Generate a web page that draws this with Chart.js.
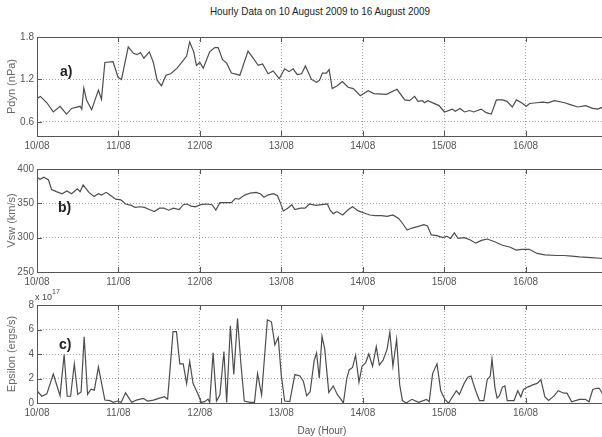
<!DOCTYPE html>
<html lang="en">
<head>
<meta charset="UTF-8">
<title>Hourly Data on 10 August 2009 to 16 August 2009</title>
<script src="https://cdn.jsdelivr.net/npm/chart.js"></script>
<style>
  html, body { margin: 0; padding: 0; background: #fff; overflow: hidden; }
  body { width: 602px; height: 437px; position: relative; font-family: "Liberation Sans Narrow", "Liberation Sans", Arial, sans-serif; }
  .panel { position: absolute; left: 0; width: 612px; }
  .title { position: absolute; top: 5px; left: 0; width: 640px; text-align: center; font-size: 11px; color: #222; transform: scaleX(0.9); transform-origin: 320px 0; }
  .tag { position: absolute; font-family: "Liberation Sans", Arial, sans-serif; font-weight: bold; font-size: 14px; color: #222; line-height: 16px; }
  .expo { position: absolute; left: 35px; top: 290px; font-size: 9px; color: #444; }
  .expo sup { font-size: 7px; position: relative; top: -2px; }
</style>
</head>
<body>
<div class="title">Hourly Data on 10 August 2009 to 16 August 2009</div>

<div class="panel" style="top:28px;height:124px"><canvas id="chartA"></canvas></div>
<div class="panel" style="top:160px;height:126px"><canvas id="chartB"></canvas></div>
<div class="panel" style="top:296px;height:141px"><canvas id="chartC"></canvas></div>

<div class="tag" style="left:60px;top:63px">a)</div>
<div class="tag" style="left:58px;top:199px">b)</div>
<div class="tag" style="left:59px;top:336px">c)</div>
<div class="expo">x 10<sup>17</sup></div>

<script>
// x axis: hours since 10/08 00:00
const dayHours = [0, 24, 48, 72, 96, 120, 144];
const dayLabels = ['10/08', '11/08', '12/08', '13/08', '14/08', '15/08', '16/08'];

// a) dynamic pressure (nPa)
const pdynHours = [0, 1, 2.9, 4.8, 6.8, 8.7, 10.2, 12.7, 13.2, 13.8, 14.6, 16.1, 18.1, 19, 20, 22.4, 23.9, 24.9, 26.9, 28.4,
  29.5, 30.5, 31.5, 33.1, 34.3, 35.4, 36.7, 38, 39.4, 41.3, 44.1, 45, 46.2, 47, 48, 49, 50.9, 52.4, 53.4, 54.7,
  55.9, 57.3, 59.8, 62.2, 63.7, 65.2, 66.5, 68.1, 69.6, 71.4, 73, 74.3, 75.5, 76.7, 78, 79.1, 80.9, 82.4, 83.3, 84.1,
  85.3, 86.1, 87, 88.5, 90, 91.7, 93.2, 95.3, 97.6, 99.3, 103, 106.1, 108.4, 109.8, 111.3, 112.3, 113.6, 114.2, 115.2, 118.5,
  120.1, 122.4, 123.3, 124.7, 126, 127.5, 128.7, 130.9, 132.4, 133.9, 135.4, 137.3, 138.5, 140.1, 141.3, 142.8, 144.2, 145.2, 147.2, 149.2,
  150.6, 152.5, 155.5, 157.4, 159.4, 161.7, 163.8, 165.3, 166.3, 168];
const pdynValues = [0.93, 0.96, 0.87, 0.74, 0.82, 0.71, 0.79, 0.82, 0.78, 1.08, 0.91, 0.77, 1.05, 0.92, 1.44, 1.45, 1.23, 1.2, 1.66, 1.57,
  1.55, 1.58, 1.5, 1.59, 1.44, 1.19, 1.11, 1.26, 1.28, 1.36, 1.53, 1.73, 1.59, 1.4, 1.44, 1.36, 1.59, 1.65, 1.65, 1.48,
  1.43, 1.29, 1.26, 1.6, 1.5, 1.4, 1.42, 1.28, 1.32, 1.21, 1.35, 1.31, 1.35, 1.27, 1.28, 1.39, 1.2, 1.16, 1.19, 1.29,
  1.29, 1.34, 1.07, 1.11, 1.17, 1.09, 1.07, 0.97, 1.04, 1.0, 0.99, 1.06, 0.91, 0.9, 0.96, 0.89, 0.9, 0.87, 0.9, 0.83,
  0.74, 0.78, 0.75, 0.79, 0.74, 0.76, 0.74, 0.78, 0.73, 0.71, 0.91, 0.91, 0.89, 0.81, 0.91, 0.87, 0.82, 0.86, 0.87, 0.88,
  0.87, 0.9, 0.87, 0.84, 0.81, 0.83, 0.79, 0.78, 0.8, 0.79];
const pdynTicks = [0.6, 1.2, 1.8];

// b) solar wind speed (km/s)
const vswHours = [0, 0.9, 2, 3.4, 4.3, 5.7, 7.4, 8.8, 10.2, 11.9, 12.7, 13.6, 15.3, 16.8, 18.1, 19, 20.4, 21.5, 23.2, 24.7,
  26.1, 27.8, 28.9, 30.4, 31.7, 33.1, 34.6, 36.1, 37.4, 38.8, 40.2, 41.9, 43.1, 44.2, 45.4, 46.7, 48.2, 49.9, 51.6, 52.7,
  53.9, 55.6, 57.3, 58.4, 59.5, 61.2, 62.9, 64.6, 65.8, 66.9, 68, 69.7, 70.9, 71.7, 72.6, 73.9, 75.1, 76, 77.7, 79,
  80.3, 82.2, 83.9, 85.6, 86.4, 87.3, 88.4, 90.1, 91.8, 93, 94.7, 96.4, 98.1, 99.8, 101.5, 103.2, 104.9, 106.6, 107.7, 109.1,
  110.5, 112.2, 114, 115.1, 116.2, 117.9, 119.6, 120.7, 121.9, 123, 124.1, 125.9, 127.6, 129.3, 131, 132.7, 134.9, 137.2, 139.5, 141.2,
  142.9, 145.1, 147.4, 149.7, 153.1, 155.3, 157.6, 159.9, 163.3, 166.1, 168];
const vswValues = [388, 385, 388, 384, 370, 367, 364, 368, 364, 371, 367, 377, 366, 360, 364, 362, 366, 362, 356, 355,
  349, 347, 344, 345, 344, 341, 338, 343, 343, 340, 343, 341, 348, 349, 346, 345, 348, 349, 348, 340,
  351, 351, 351, 357, 356, 362, 365, 366, 364, 359, 362, 364, 361, 351, 339, 343, 348, 341, 343, 343,
  349, 347, 348, 349, 340, 335, 338, 333, 341, 345, 339, 336, 333, 332, 332, 331, 333, 328, 321, 311,
  314, 316, 319, 317, 304, 303, 300, 302, 299, 307, 299, 300, 297, 292, 296, 298, 294, 289, 286, 282,
  283, 283, 277, 275, 274, 274, 273, 272, 271, 270, 269];
const vswTicks = [250, 300, 350, 400];

// c) epsilon (x 10^17 ergs/s)
const epsHours = [0, 1.4, 2.9, 4.8, 6.8, 8, 8.9, 9.9, 11, 12, 13, 13.9, 14.9, 15.9, 16.9, 18.1, 19, 20, 21.5, 22.5,
  23.8, 24.8, 26.1, 27.9, 29.3, 31.3, 32.6, 34.3, 35.9, 37.5, 38.5, 40.1, 41.1, 42.1, 43.1, 44.1, 45, 46, 47.5, 48.4,
  49.4, 50.4, 50.9, 51.9, 52.9, 53.9, 55.1, 55.9, 57, 58, 59.1, 60.1, 61.1, 62.8, 64.1, 65, 66.2, 67.9, 69.1, 70.1,
  71.1, 72, 73, 74.5, 76, 77.5, 78.5, 79.5, 80.5, 81.7, 82.4, 83.2, 84, 84.8, 86, 87.3, 88.5, 89.6, 90.3, 91.3,
  92, 93, 93.9, 94.9, 95.8, 96.9, 97.8, 98.9, 100, 100.9, 102, 103.2, 104, 104.9, 106, 106.9, 107.7, 108.8, 110.5, 112.5,
  114.8, 115.6, 116.6, 117.9, 119, 120.2, 121.3, 123.6, 124.5, 125.9, 127, 127.9, 129.3, 130.4, 131.7, 132.7, 133.6, 134.1, 135, 135.6,
  136.3, 137.2, 137.9, 138.6, 140.6, 141.7, 142.6, 143.4, 144.6, 146.3, 147.4, 148.5, 149.7, 150.8, 152.5, 153.6, 155.3, 156.2, 157.6, 159.9,
  161.6, 162.7, 163.8, 164.9, 165.7, 166.6, 167.2, 168];
const epsValues = [1.0, 0.55, 0.75, 2.37, 0.6, 3.96, 0.55, 0.55, 3.2, 0.7, 0.9, 5.41, 0.7, 1.13, 1.05, 2.94, 1.67, 0.24, 0.19, 0.05,
  0.16, 0.05, 0.83, 0.05, 0.24, 0.38, 0.16, 0.24, 0.38, 0.51, 0.32, 5.82, 5.82, 3.2, 3.2, 1.59, 3.39, 1.59, 0.7, 0.05,
  0.11, 0.32, 0.05, 4.09, 0.16, 0.65, 4.2, 0.05, 6.3, 2.32, 6.9, 3.2, 0.16, 0.05, 0.05, 2.4, 0.65, 6.79, 6.63, 4.74,
  5.36, 2.26, 0.16, 0.11, 2.32, 2.21, 1.78, 0.59, 0.92, 3.47, 4.09, 2.05, 5.44, 4.42, 0.85, 1.4, 0.7, 0.3, 0.0, 2.0,
  2.7, 2.9, 3.9, 1.7, 3.0, 3.3, 4.0, 3.0, 4.6, 3.1, 3.5, 4.4, 5.8, 3.0, 5.2, 1.5, 0.2, 0.0, 0.3, 0.05,
  0.3, 0.1, 2.4, 3.2, 1.0, 0.3, 0.0, 1.0, 0.7, 1.6, 2.1, 2.2, 1.0, 0.2, 0.2, 1.9, 2.2, 3.6, 1.2, 0.4,
  0.6, 1.3, 1.4, 0.2, 0.2, 1.0, 0.5, 1.1, 1.3, 1.5, 1.6, 1.9, 0.5, 0.2, 0.6, 1.0, 0.8, 0.8, 0.1, 0.3,
  0.3, 0.1, 1.1, 1.2, 1.2, 0.8, 0.4, 0.5];
const epsTicks = [0, 2, 4, 6, 8];

const tickFont = { family: "'Liberation Sans Narrow', 'Liberation Sans', Arial, sans-serif", size: 10 };
const titleFont = { family: "'Liberation Sans', Arial, sans-serif", size: 11 };

// MATLAB-like frame: solid box plus short inward ticks
const boxPlugin = {
  id: 'box',
  afterDraw(chart) {
    const { ctx, chartArea: a, scales } = chart;
    ctx.save();
    ctx.strokeStyle = '#555';
    ctx.lineWidth = 1;
    ctx.strokeRect(Math.round(a.left) + 0.5, Math.round(a.top) + 0.5, a.right - a.left, Math.round(a.bottom - a.top));
    ctx.beginPath();
    scales.x.ticks.forEach(t => {
      const x = Math.round(scales.x.getPixelForValue(t.value)) + 0.5;
      ctx.moveTo(x, a.bottom); ctx.lineTo(x, a.bottom - 5);
      ctx.moveTo(x, a.top); ctx.lineTo(x, a.top + 5);
    });
    scales.y.ticks.forEach(t => {
      const y = Math.round(scales.y.getPixelForValue(t.value)) + 0.5;
      ctx.moveTo(a.left, y); ctx.lineTo(a.left + 5, y);
    });
    ctx.stroke();
    ctx.restore();
  }
};

function makePanel(id, hours, values, yMin, yMax, yTicks, yTitle, topPad, xHeight, xTitle) {
  const points = hours.map((h, i) => ({ x: h, y: values[i] }));
  return new Chart(document.getElementById(id), {
    type: 'line',
    data: {
      datasets: [{
        data: points,
        borderColor: '#4d4d4d',
        borderWidth: 1.2,
        pointRadius: 0,
        tension: 0,
        fill: false
      }]
    },
    options: {
      responsive: true,
      maintainAspectRatio: false,
      animation: false,
      layout: { padding: { top: topPad, right: 5, left: 0, bottom: 0 } },
      plugins: { legend: { display: false }, tooltip: { enabled: false } },
      scales: {
        x: {
          type: 'linear',
          min: 0,
          max: 168,
          afterBuildTicks: axis => { axis.ticks = dayHours.map(v => ({ value: v })); },
          afterFit: axis => { axis.height = xHeight; },
          ticks: {
            autoSkip: false,
            maxRotation: 0,
            padding: 4,
            color: '#555',
            font: tickFont,
            callback: (v, i) => dayLabels[i]
          },
          grid: { color: '#a0a0a0', drawTicks: false },
          border: { display: false, dash: [1, 2] },
          title: {
            display: !!xTitle,
            text: xTitle || '',
            color: '#555',
            font: tickFont,
            padding: { top: 3, bottom: 0 }
          }
        },
        y: {
          min: yMin,
          max: yMax,
          afterBuildTicks: axis => { axis.ticks = yTicks.map(v => ({ value: v })); },
          afterFit: axis => { axis.width = 37; },
          ticks: { padding: 3, color: '#555', font: tickFont, callback: v => String(v) },
          grid: { color: '#a0a0a0', drawTicks: false },
          border: { display: false, dash: [1, 2] },
          title: {
            display: true,
            text: yTitle,
            color: '#666',
            font: titleFont,
            padding: { top: 5, bottom: 0 }
          }
        }
      }
    },
    plugins: [boxPlugin]
  });
}

makePanel('chartA', pdynHours, pdynValues, 0.4, 1.8, pdynTicks, 'Pdyn (nPa)', 6, 16, null);
makePanel('chartB', vswHours, vswValues, 250, 400, vswTicks, 'Vsw (km/s)', 9, 14, null);
makePanel('chartC', epsHours, epsValues, 0, 8, epsTicks, 'Epsilon (ergs/s)', 8, 34, 'Day (Hour)');
</script>
</body>
</html>
